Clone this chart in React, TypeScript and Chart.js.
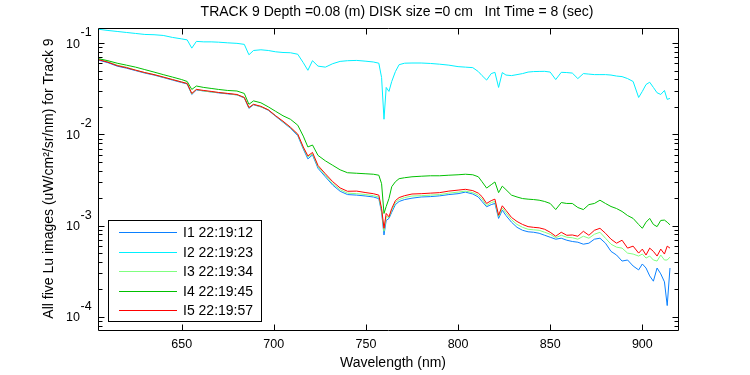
import React, { useEffect, useRef } from "react";
import { Chart, registerables } from "chart.js";

Chart.register(...registerables);

const TITLE = "TRACK 9 Depth =0.08 (m) DISK size =0 cm   Int Time = 8 (sec)";
const X_LABEL = "Wavelength (nm)";
const Y_LABEL = "All five Lu images (uW/cm\u00B2/sr/nm) for Track 9";

const xTicks = [650, 700, 750, 800, 850, 900];
const yDecades = [-1, -2, -3, -4];

const seriesLabels = ["I1 22:19:12", "I2 22:19:23", "I3 22:19:34", "I4 22:19:45", "I5 22:19:57"];
const seriesColors = ["#0a80ff", "#00f0ff", "#80ff80", "#00c000", "#ff0000"];

const X_MIN = 604.6;
const X_MAX = 919.9;
const Y_MIN = 7.46e-5;
const Y_MAX = 0.1466;

const wavelengths = [
  605, 610, 615, 620, 625, 630, 635, 640, 645, 650,
  653, 655.5, 658, 662, 666, 670, 675, 680, 684, 686.5,
  689, 693, 697, 701, 705, 709, 713, 716, 718.5, 721,
  724, 728, 732, 736, 740, 745, 750, 754, 757, 758.5,
  759.8, 761, 762.5, 764, 766, 768, 771, 775, 780, 785,
  790, 795, 800, 804, 808, 811, 813, 815.5, 818, 820,
  822, 824, 826, 829, 832, 835, 838, 841, 844, 847,
  850, 853, 856, 859, 862, 865, 868, 871, 874, 877,
  880, 883, 886, 889, 892, 895, 898, 900, 902, 904,
  906, 908, 910, 912, 913.5, 915,
];

const i1Values = [
  0.065, 0.0611, 0.056, 0.0532, 0.05, 0.047, 0.0447, 0.042, 0.0394, 0.037,
  0.0357, 0.0274, 0.0307, 0.0299, 0.0292, 0.0285, 0.0278, 0.0271, 0.0251, 0.0193,
  0.0211, 0.02005, 0.0184, 0.0158, 0.0136, 0.0117, 0.0097, 0.00692, 0.00539, 0.00596,
  0.00425, 0.00343, 0.00278, 0.00238, 0.00219, 0.00216, 0.00211, 0.00206, 0.00198, 0.0014,
  0.00079, 0.00114, 0.0012, 0.0014, 0.0017, 0.00184, 0.00193, 0.002, 0.00206, 0.00208,
  0.00212, 0.00219, 0.00224, 0.00233, 0.00222, 0.00206, 0.00184, 0.00161, 0.0017, 0.00175,
  0.0012, 0.00148, 0.00129, 0.00109, 0.000958, 0.000889, 0.000856, 0.000846, 0.000825, 0.000784,
  0.000746, 0.00071, 0.000728, 0.000692, 0.00067, 0.000658, 0.000626, 0.000642, 0.00071, 0.000728,
  0.000642, 0.000522, 0.000476, 0.000409, 0.00042, 0.000361, 0.000327, 0.00038, 0.000343, 0.000281,
  0.000246, 0.000343, 0.000296, 0.000242, 0.000133, 0.000343,
];

const i2Values = [
  0.142, 0.1377, 0.1344, 0.131, 0.1278, 0.1246, 0.1237, 0.1215, 0.1156, 0.1114,
  0.1086, 0.0882, 0.1046, 0.1033, 0.1033, 0.1025, 0.1008, 0.0995, 0.097, 0.0746,
  0.0831, 0.0846, 0.0831, 0.0804, 0.079, 0.0785, 0.0756, 0.0611, 0.0504, 0.0642,
  0.056, 0.0546, 0.0596, 0.0631, 0.0642, 0.0647, 0.0634, 0.0622, 0.0603, 0.042,
  0.01466, 0.0327, 0.0296, 0.038, 0.0488, 0.0581, 0.0603, 0.0606, 0.0606, 0.0599,
  0.0588, 0.0574, 0.0553, 0.0546, 0.0539, 0.0488, 0.0441, 0.0394, 0.0464, 0.0479,
  0.0327, 0.0476, 0.0447, 0.0441, 0.0452, 0.0464, 0.0482, 0.0488, 0.049, 0.0491,
  0.0482, 0.0399, 0.0479, 0.0476, 0.047, 0.0409, 0.0464, 0.0458, 0.0452, 0.0452,
  0.0452, 0.0447, 0.0436, 0.043, 0.0409, 0.038, 0.0254, 0.0296, 0.0352, 0.0373,
  0.0327, 0.0286, 0.0274, 0.0303, 0.0242, 0.0248,
];

const i3Values = [
  0.0667, 0.0626, 0.0574, 0.0546, 0.0506, 0.0476, 0.0452, 0.0425, 0.0399, 0.0375,
  0.0361, 0.0278, 0.0311, 0.0299, 0.0292, 0.0288, 0.0281, 0.0271, 0.0254, 0.01956,
  0.02135, 0.02005, 0.0186, 0.016, 0.01377, 0.01186, 0.00995, 0.0071, 0.00567, 0.00611,
  0.00441, 0.00357, 0.00288, 0.00248, 0.00227, 0.00224, 0.00219, 0.00213, 0.00206, 0.00147,
  0.000867, 0.00126, 0.00123, 0.00147, 0.00179, 0.00193, 0.00203, 0.00211, 0.00213, 0.00216,
  0.00219, 0.00227, 0.00233, 0.00239, 0.0023, 0.00216, 0.00196, 0.00166, 0.00179, 0.00184,
  0.00126, 0.00156, 0.00138, 0.00116, 0.00103, 0.000958, 0.000912, 0.0009, 0.000889, 0.000846,
  0.000804, 0.000737, 0.000784, 0.000746, 0.000737, 0.00071, 0.000765, 0.000728, 0.000804, 0.000846,
  0.000728, 0.000626, 0.000581, 0.000567, 0.0005, 0.000488, 0.000464, 0.000488, 0.000441, 0.000464,
  0.00042, 0.000409, 0.000476, 0.00042, 0.00042, 0.000452,
];

const i4Values = [
  0.0675, 0.0642, 0.0603, 0.0574, 0.0546, 0.0513, 0.0482, 0.0452, 0.0425, 0.0399,
  0.038, 0.0311, 0.0339, 0.0327, 0.0319, 0.0311, 0.0303, 0.0299, 0.0281, 0.02135,
  0.0233, 0.0222, 0.02005, 0.0179, 0.016, 0.01466, 0.01262, 0.00958, 0.00728, 0.00765,
  0.00588, 0.00513, 0.00458, 0.00409, 0.0038, 0.00375, 0.0037, 0.00366, 0.00357, 0.00288,
  0.00136, 0.00162, 0.00198, 0.00267, 0.00303, 0.00327, 0.00335, 0.00343, 0.00348, 0.00352,
  0.00352, 0.00357, 0.00361, 0.00366, 0.00361, 0.00343, 0.00303, 0.00258, 0.00281, 0.00301,
  0.0023, 0.00271, 0.00248, 0.00216, 0.00206, 0.00198, 0.00195, 0.00193, 0.0019, 0.00184,
  0.00175, 0.0015, 0.00179, 0.00175, 0.00175, 0.00158, 0.0015, 0.0017, 0.00175, 0.0019,
  0.00175, 0.00162, 0.00154, 0.00143, 0.00129, 0.0012, 0.00103, 0.000935, 0.00109, 0.0012,
  0.00103, 0.000975, 0.00114, 0.00115, 0.00109, 0.00102,
];

const i5Values = [
  0.0658, 0.0618, 0.0567, 0.0539, 0.0506, 0.0476, 0.0452, 0.0425, 0.0399, 0.0375,
  0.0361, 0.0281, 0.0311, 0.0303, 0.0296, 0.0288, 0.0281, 0.0274, 0.0254, 0.0197,
  0.02135, 0.0203, 0.0186, 0.016, 0.01395, 0.012, 0.01008, 0.00728, 0.00581, 0.00634,
  0.00456, 0.0037, 0.00303, 0.00259, 0.00238, 0.00239, 0.0023, 0.00224, 0.00216, 0.00154,
  0.000935, 0.00136, 0.00125, 0.00154, 0.00188, 0.00203, 0.00213, 0.00222, 0.00224, 0.00227,
  0.0023, 0.00239, 0.00245, 0.0025, 0.00242, 0.00227, 0.00208, 0.00175, 0.00188, 0.00195,
  0.0013, 0.00165, 0.00147, 0.00123, 0.00111, 0.00103, 0.000975, 0.000958, 0.000946, 0.000912,
  0.000846, 0.000765, 0.000846, 0.000784, 0.00079, 0.000765, 0.000867, 0.000784, 0.000889, 0.000935,
  0.000825, 0.00071, 0.000642, 0.000692, 0.000567, 0.000596, 0.0005, 0.000553, 0.000476, 0.000567,
  0.000522, 0.000464, 0.000553, 0.000488, 0.000596, 0.000567,
];

const seriesValues = [i1Values, i2Values, i3Values, i4Values, i5Values];

const FONT = '"Liberation Sans", Arial, Helvetica, sans-serif';

const matlabAxesPlugin = {
  id: "matlabAxes",
  afterDraw(chart: any) {
    const ctx = chart.ctx as CanvasRenderingContext2D;
    const { left, top, right, bottom } = chart.chartArea;
    const xs = chart.scales.x;
    const ys = chart.scales.y;
    const L = Math.round(left) + 0.5;
    const R = Math.round(right) - 0.5;
    const T = Math.round(top) + 0.5;
    const B = Math.round(bottom) - 0.5;
    ctx.save();
    ctx.setLineDash([]);
    ctx.strokeStyle = "#000";
    ctx.lineWidth = 1;
    ctx.beginPath();
    ctx.rect(L, T, R - L, B - T);
    ctx.stroke();

    const majorLen = 6;
    const minorLen = 4;
    ctx.beginPath();
    xTicks.forEach((t) => {
      const px = Math.round(xs.getPixelForValue(t)) + 0.5;
      ctx.moveTo(px, B);
      ctx.lineTo(px, B - majorLen);
      ctx.moveTo(px, T);
      ctx.lineTo(px, T + majorLen);
    });
    for (let d = -5; d <= 0; d++) {
      for (let m = 1; m <= 9; m++) {
        const v = m * Math.pow(10, d);
        if (v < Y_MIN || v > Y_MAX) continue;
        const py = Math.round(ys.getPixelForValue(v)) + 0.5;
        const len = m === 1 ? majorLen : minorLen;
        ctx.moveTo(L, py);
        ctx.lineTo(L + len, py);
        ctx.moveTo(R, py);
        ctx.lineTo(R - len, py);
      }
    }
    ctx.stroke();

    ctx.fillStyle = "#000";
    ctx.font = `12.5px ${FONT}`;
    ctx.textAlign = "center";
    ctx.textBaseline = "middle";
    xTicks.forEach((t) => {
      const px = xs.getPixelForValue(t);
      ctx.fillText(String(t), px, 345);
    });
    yDecades.forEach((d) => {
      const py = ys.getPixelForValue(Math.pow(10, d));
      ctx.font = `12.5px ${FONT}`;
      ctx.textAlign = "right";
      ctx.textBaseline = "middle";
      ctx.fillText("10", 80, py + 1);
      ctx.textAlign = "left";
      ctx.fillText(String(d), 80.5, py - 10.5);
    });

    ctx.font = `14px ${FONT}`;
    ctx.textAlign = "center";
    ctx.textBaseline = "middle";
    ctx.fillText(TITLE, 397, 12);
    ctx.fillText(X_LABEL, 393, 363);
    ctx.save();
    ctx.translate(49, 178.5);
    ctx.rotate(-Math.PI / 2);
    ctx.fillText(Y_LABEL, 0, 0);
    ctx.restore();

    // legend
    const lx0 = 108.5, ly0 = 220.5, lx1 = 261.5, ly1 = 321.5;
    ctx.fillStyle = "#fff";
    ctx.fillRect(lx0, ly0, lx1 - lx0, ly1 - ly0);
    ctx.strokeStyle = "#000";
    ctx.strokeRect(lx0, ly0, lx1 - lx0, ly1 - ly0);
    ctx.font = `14px ${FONT}`;
    ctx.textAlign = "left";
    ctx.textBaseline = "middle";
    seriesLabels.forEach((lab, i) => {
      const y = Math.round(232 + i * 19.5);
      ctx.fillStyle = seriesColors[i];
      ctx.fillRect(119, y, 58, 1);
      ctx.fillStyle = "#000";
      ctx.fillText(lab, 183, y + 1);
    });
    ctx.restore();
  },
};

export default function App() {
  const canvasRef = useRef<HTMLCanvasElement | null>(null);

  useEffect(() => {
    const canvas = canvasRef.current;
    if (!canvas) return;
    const datasets = seriesLabels.map((label, i) => ({
      label,
      data: wavelengths.map((w, k) => ({ x: w, y: seriesValues[i][k] })),
      borderColor: seriesColors[i],
      backgroundColor: seriesColors[i],
      borderWidth: 1,
      pointRadius: 0,
      tension: 0,
      fill: false,
      order: 4 - i,
    }));
    const chart = new Chart(canvas, {
      type: "line",
      data: { datasets },
      options: {
        responsive: false,
        animation: false,
        events: [],
        layout: { padding: { left: 98, top: 28, right: 71, bottom: 44 } },
        scales: {
          x: { type: "linear", display: false, min: X_MIN, max: X_MAX },
          y: { type: "logarithmic", display: false, min: Y_MIN, max: Y_MAX },
        },
        plugins: {
          legend: { display: false },
          tooltip: { enabled: false },
          title: { display: false },
        },
      },
      plugins: [matlabAxesPlugin],
    } as any);
    return () => chart.destroy();
  }, []);

  return (
    <div style={{ position: "absolute", left: 0, top: 0, width: 750, height: 375, background: "#fff" }}>
      <canvas ref={canvasRef} width={750} height={375} style={{ display: "block" }} />
    </div>
  );
}
